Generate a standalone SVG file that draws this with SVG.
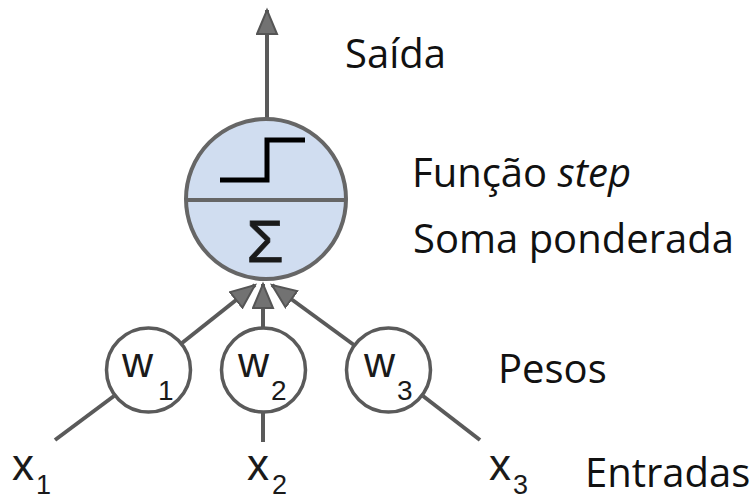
<svg xmlns="http://www.w3.org/2000/svg" width="755" height="499" viewBox="0 0 755 499">
<style>
.lbl{font-family:"Open Sans","DejaVu Sans",sans-serif;font-size:40px;fill:#111}
.sym{font-family:"Liberation Sans",Arial,sans-serif;fill:#1a1a1a}
.wc{fill:#fff;stroke:#5a5a5a;stroke-width:3.5}
.edge{stroke:#5a5a5a;stroke-width:4;fill:none}
</style>
<defs>
<marker id="ah" markerUnits="userSpaceOnUse" markerWidth="28" markerHeight="24" refX="25" refY="11" orient="auto">
<path d="M1,1 L25,11 L1,21 Z" fill="#727272" stroke="#555" stroke-width="2" stroke-linejoin="miter"/>
</marker>
</defs>
<rect width="755" height="499" fill="#fff"/>
<g id="connectors">
<line class="edge" x1="267" y1="119" x2="267" y2="10" marker-end="url(#ah)"/>
<line class="edge" x1="182" y1="343" x2="255" y2="285" marker-end="url(#ah)"/>
<line class="edge" x1="263" y1="327" x2="263" y2="284" marker-end="url(#ah)"/>
<line class="edge" x1="354" y1="345" x2="272" y2="285" marker-end="url(#ah)"/>
<line class="edge" x1="55" y1="440" x2="114" y2="396"/>
<line class="edge" x1="263" y1="413" x2="263" y2="442"/>
<line class="edge" x1="480" y1="440" x2="423" y2="396"/>
</g>
<g id="neuron">
<circle cx="266" cy="199" r="80" fill="#d0ddf0" stroke="#666" stroke-width="4"/>
<line x1="186" y1="200" x2="346" y2="200" stroke="#666" stroke-width="4"/>
<polyline points="220,180 267,180 267,140 305,140" fill="none" stroke="#000" stroke-width="5"/>
<text class="sym" x="265" y="262" font-size="60" text-anchor="middle" stroke="#1a1a1a" stroke-width="0.8">Σ</text>
</g>
<g id="w1">
<circle class="wc" cx="148.5" cy="370" r="42"/>
<text class="sym" x="122" y="377" font-size="43">w</text>
<text class="sym" x="158" y="400" font-size="28">1</text>
</g>
<g id="w2">
<circle class="wc" cx="263.5" cy="370" r="42"/>
<text class="sym" x="238" y="377" font-size="43">w</text>
<text class="sym" x="271" y="400" font-size="28">2</text>
</g>
<g id="w3">
<circle class="wc" cx="388.5" cy="370" r="42"/>
<text class="sym" x="364" y="377" font-size="43">w</text>
<text class="sym" x="397" y="400" font-size="28">3</text>
</g>
<g id="x1">
<text class="sym" x="12" y="480" font-size="44">x</text>
<text class="sym" x="36" y="494" font-size="27">1</text>
</g>
<g id="x2">
<text class="sym" x="247" y="480" font-size="44">x</text>
<text class="sym" x="272" y="494" font-size="27">2</text>
</g>
<g id="x3">
<text class="sym" x="489" y="480" font-size="44">x</text>
<text class="sym" x="513" y="494" font-size="27">3</text>
</g>
<g id="labels">
<text class="lbl" x="345" y="68">Saída</text>
<text class="lbl" x="412" y="187">Função <tspan font-style="italic">step</tspan></text>
<text class="lbl" x="413" y="253">Soma ponderada</text>
<text class="lbl" x="498" y="383">Pesos</text>
<text class="lbl" x="585" y="487">Entradas</text>
</g>
</svg>
